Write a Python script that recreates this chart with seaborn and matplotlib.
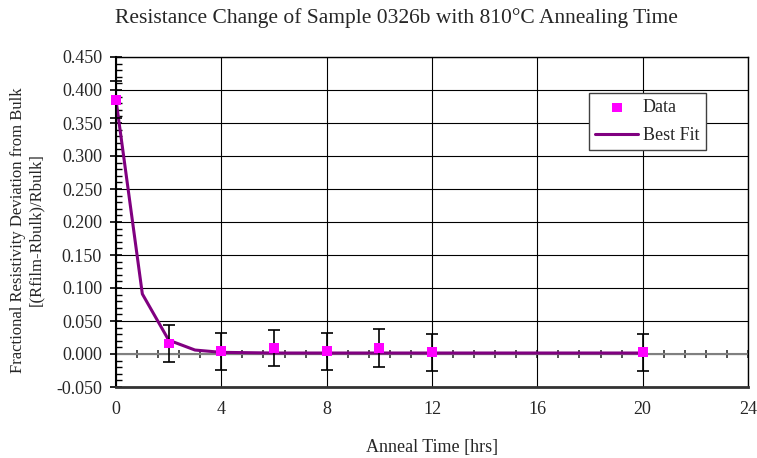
import matplotlib
matplotlib.use("Agg")
import matplotlib.pyplot as plt
import seaborn as sns
import pandas as pd
from matplotlib.ticker import MultipleLocator, FormatStrFormatter

# Data
anneal_hours = [0, 2, 4, 6, 8, 10, 12, 20]
deviation = [0.385, 0.016, 0.0045, 0.0094, 0.0045, 0.0094, 0.0025, 0.0025]
error = [0.028, 0.0275, 0.028, 0.0275, 0.028, 0.0285, 0.028, 0.0285]

fit_hours = [0, 1, 2, 3, 4, 6, 8, 10, 12, 16, 20]
fit_values = [0.385, 0.091, 0.021, 0.006, 0.0025, 0.0015, 0.0015, 0.0015, 0.0015, 0.0015, 0.0015]

title = "Resistance Change of Sample 0326b with 810°C Annealing Time"
xlabel = "Anneal Time [hrs]"
ylabel = "Fractional Resistivity Deviation from Bulk\n[(Rfilm-Rbulk)/Rbulk]"

sns.set_theme(style="white")
plt.rcParams['font.family'] = ['Liberation Serif', 'DejaVu Serif']

df_data = pd.DataFrame({"t": anneal_hours, "d": deviation})
df_fit = pd.DataFrame({"t": fit_hours, "d": fit_values})

fig = plt.figure(figsize=(7.57, 4.58), dpi=100)
ax = fig.add_axes([116/757, 1-387/458, (748-116)/757, (387-57)/458])

ax.set_xlim(0, 24)
ax.set_ylim(-0.05, 0.45)

# grid
ax.xaxis.set_major_locator(MultipleLocator(4))
ax.yaxis.set_major_locator(MultipleLocator(0.05))
ax.yaxis.set_minor_locator(MultipleLocator(0.01))
ax.yaxis.set_major_formatter(FormatStrFormatter('%.3f'))
ax.grid(True, which='major', color='black', linewidth=0.8)
ax.set_axisbelow(True)

# zero line
ax.axhline(0, color='#808080', linewidth=1.5, zorder=1.5)

sns.lineplot(data=df_fit, x="t", y="d", ax=ax, color='#800080', linewidth=2.2,
             label="Best Fit", zorder=3, legend=False)
ax.errorbar(anneal_hours, deviation, yerr=error, fmt='none', ecolor='black',
            elinewidth=1.2, capsize=4, capthick=1.2, zorder=4, clip_on=False)
sns.scatterplot(data=df_data, x="t", y="d", ax=ax, marker='s', color='#FF00FF',
                s=50, edgecolor='none', label="Data", zorder=5, legend=False,
                clip_on=False)

# axis ticks
ax.tick_params(axis='x', which='both', length=0, pad=10, labelsize=13)
ax.tick_params(axis='y', which='major', direction='inout', length=8, width=1.2,
               labelsize=13, color='black', left=True, pad=6)
ax.tick_params(axis='y', which='minor', direction='in', length=4, width=1,
               color='black', left=True)

# secondary x axis at y=0 with crossing ticks
sec = ax.secondary_xaxis(0.1)
sec.spines['bottom'].set_visible(False)
sec.xaxis.set_major_locator(MultipleLocator(4))
sec.xaxis.set_minor_locator(MultipleLocator(0.8))
sec.tick_params(axis='x', which='both', direction='inout', length=6, width=1.1,
                labelbottom=False, color='#222222')

for side in ['left', 'right', 'top']:
    ax.spines[side].set_color('black')
    ax.spines[side].set_linewidth(1.0)
ax.spines['bottom'].set_color('#333333')
ax.spines['bottom'].set_linewidth(2.0)
ax.spines['left'].set_linewidth(1.5)

ax.set_xlabel(xlabel, fontsize=13, labelpad=15)
ax.set_ylabel(ylabel, fontsize=12)
ax.yaxis.set_label_coords(-0.113, 0.476)
fig.suptitle(title, fontsize=15.5, x=396/757, y=0.982, va='top')

h, l = ax.get_legend_handles_labels()
order = [l.index("Data"), l.index("Best Fit")]
leg = ax.legend([h[i] for i in order], [l[i] for i in order],
                loc='upper left', bbox_to_anchor=(0.748, 0.891), borderaxespad=0,
                frameon=True, fancybox=False, framealpha=1, edgecolor='#404040',
                fontsize=13, borderpad=0.35, handlelength=2.4, handletextpad=0.25,
                labelspacing=0.6)
leg.get_frame().set_linewidth(1.0)

fig.savefig("out.png", dpi=100)
